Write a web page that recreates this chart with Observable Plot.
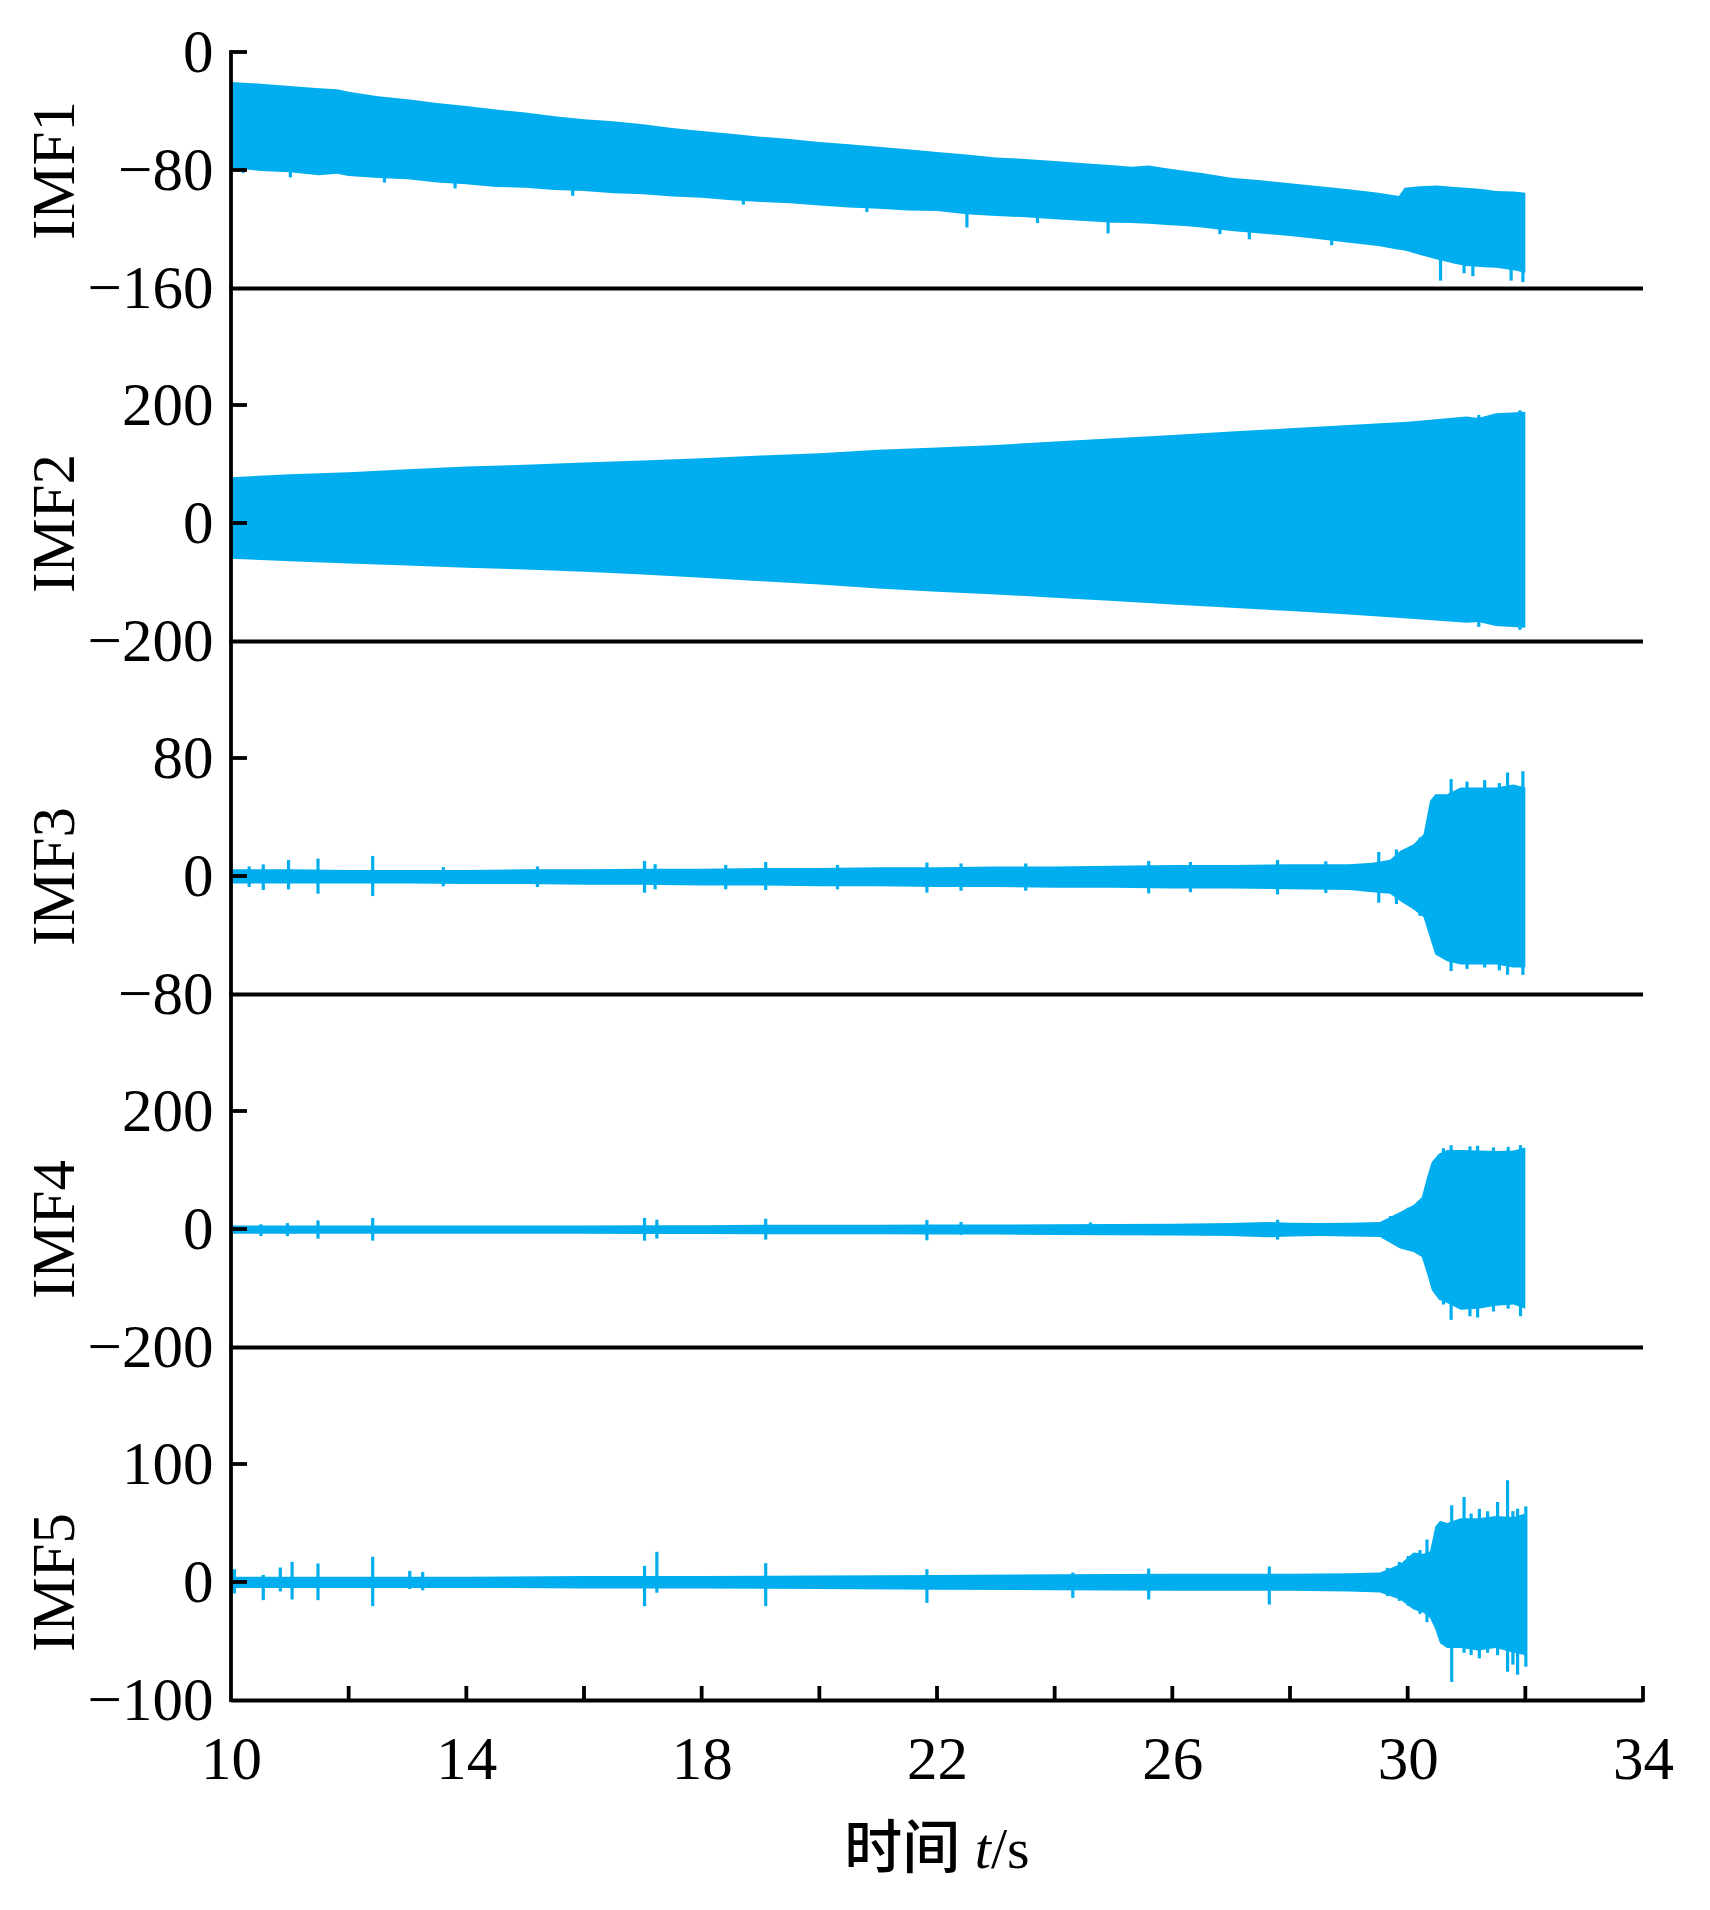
<!DOCTYPE html>
<html>
<head>
<meta charset="utf-8">
<script src="https://cdn.jsdelivr.net/npm/d3@7"></script>
<script src="https://cdn.jsdelivr.net/npm/@observablehq/plot@0.6"></script>
<style>
  html, body { margin: 0; padding: 0; background: white; }
  #wrap { position: relative; width: 1710px; height: 1910px; background: white; }
  #xtitle { position: absolute; left: 231px; width: 1412px; top: 1811px; text-align: center;
            font-size: 58px; line-height: 64px; font-family: "Liberation Serif", serif; color: black; }
  #xtitle .cjk { font-family: "Noto Sans CJK SC", sans-serif; font-weight: 500; }
</style>
</head>
<body>
<div id="wrap"></div>
<script>
// ---------- data ----------
const panelNames = ["IMF1", "IMF2", "IMF3", "IMF4", "IMF5"];
const yDomains = [[-160, 0], [-200, 200], [-80, 80], [-200, 200], [-100, 100]];
const yTickValues = [[0, -80, -160], [200, 0, -200], [80, 0, -80], [200, 0, -200], [100, 0, -100]];
const xTicksMinor = [10, 12, 14, 16, 18, 20, 22, 24, 26, 28, 30, 32, 34];
const xTickLabels = [10, 14, 18, 22, 26, 30, 34];

// IMF1 envelope
const imf1T  = [10, 10.5, 11, 11.5, 11.8, 12, 12.5, 13, 13.5, 14, 14.5, 15, 15.5, 16, 16.5, 17, 17.5, 18, 18.5, 19, 19.5, 20, 20.5, 21, 21.5, 22, 22.5, 23, 23.5, 24, 24.5, 25, 25.3, 25.6, 25.9, 26.2, 26.5, 27, 27.5, 28, 28.5, 29, 29.5, 29.85, 29.95, 30.2, 30.5, 30.8, 31, 31.3, 31.5, 31.8, 32];
const imf1Hi = [-20.3, -21.5, -23, -24.5, -25.3, -27, -30, -32.1, -34.5, -36.6, -39, -41.1, -43.5, -45.6, -47, -49, -51.5, -53.6, -55.5, -57.4, -59, -61, -62.5, -64.2, -66, -67.8, -69.5, -71.6, -72.5, -73.9, -75.5, -76.8, -77.8, -77, -78.8, -80.5, -82, -85.2, -87, -89, -91, -93.1, -95.5, -97.6, -92, -91, -90.5, -91.5, -92, -93, -94.2, -94.5, -95.4];
const imf1Lo = [-78.4, -80.7, -81.5, -83.5, -82.5, -84.1, -85.5, -86.3, -88.5, -89.7, -91.5, -92, -93.5, -94.2, -95.8, -96.5, -98, -98.8, -100.5, -101.7, -102.5, -104, -105.5, -106.2, -107.5, -107.8, -110, -111.2, -112, -113.4, -114.5, -115.7, -116, -116.5, -117.3, -118, -119, -121.4, -123, -124.7, -127, -129.3, -131.5, -134, -134.5, -137.5, -140.6, -143.5, -145.1, -146, -146.2, -148, -149.6];
const imf1SpikeT  = [10.2, 11.0, 12.6, 13.8, 15.8, 18.7, 20.8, 22.5, 23.7, 24.9, 26.8, 27.3, 28.7, 30.55, 30.95, 31.1, 31.75, 31.95];
const imf1SpikeHi = [-60, -60, -60, -70, -70, -80, -85, -100, -95, -105, -100, -110, -110, -95, -95, -95, -97, -97];
const imf1SpikeLo = [-82, -85, -88.5, -92.5, -97.5, -103.5, -108.5, -119, -116, -123, -123.5, -127, -131, -155, -150, -152, -155, -156];

// IMF2 envelope
const imf2T  = [10, 11, 12, 13, 14, 15, 16, 17, 18, 19, 20, 21, 22, 23, 24, 25, 26, 27, 28, 29, 30, 31, 31.2, 31.5, 32];
const imf2Hi = [77.7, 82.8, 86.2, 91.3, 95.8, 98.6, 102.5, 105.9, 109.9, 114.4, 118.3, 124, 127.9, 132.4, 138, 143.7, 149.3, 154.9, 160.6, 166.2, 171.8, 180.3, 178, 185.9, 188.7];
const imf2Lo = [-60.8, -64.8, -68.7, -72.1, -76, -78.9, -82.8, -87.3, -93, -98.6, -104.2, -111, -116.6, -121.1, -126.8, -132.4, -138, -143.7, -149.3, -154.9, -161.7, -169, -168, -174.7, -177.5];
const imf2SpikeT  = [31.2, 31.9];
const imf2SpikeHi = [183, 191];
const imf2SpikeLo = [-176, -181];

// IMF3 envelope
const imf3T  = [10, 11, 12, 13, 14, 15, 16, 17, 18, 19, 20, 21, 22, 23, 24, 25, 26, 27, 28, 29, 29.4, 29.7, 29.87, 30.1, 30.27, 30.38, 30.47, 30.67, 30.9, 31.2, 31.5, 31.8, 32];
const imf3Hi = [4.5, 4.5, 4, 4, 4, 4.5, 4.5, 5, 5, 5.5, 5.5, 6, 6, 6.5, 6.5, 7, 7.5, 7.5, 8, 8, 9, 11, 17, 21.5, 28.3, 51, 55.5, 55.5, 60, 60, 60, 62, 60];
const imf3Lo = [-5, -5, -5, -5, -5.5, -5.5, -6, -6, -6.5, -6.5, -7, -7, -7.5, -7.5, -8, -8, -8.5, -8.5, -9, -9.5, -11, -12, -16.9, -22.7, -28, -42, -53.3, -57.8, -60, -60, -60, -62, -62];
const imf3SpikeT  = [10.3, 10.54, 10.97, 11.47, 12.4, 13.6, 15.2, 17.02, 17.2, 18.4, 19.08, 20.3, 21.82, 22.4, 23.5, 25.59, 26.3, 27.78, 28.6, 29.5, 29.8, 30.2, 30.73, 31.0, 31.3, 31.55, 31.69, 31.95];
const imf3SpikeHi = [6.5, 7.9, 10.9, 11.8, 13.6, 6, 6.5, 10.2, 8, 7.5, 9.5, 7.5, 9.1, 8.5, 8.5, 10.2, 9.5, 10.9, 10, 16.3, 18, 26, 65.7, 64, 65, 63, 70.2, 71];
const imf3SpikeLo = [-7.5, -9.5, -9.1, -12, -13.6, -7, -7.5, -11.3, -9, -9, -9.5, -9, -11.3, -10, -10, -11.8, -11, -12.5, -11.5, -18.1, -19, -27, -64.4, -63, -62, -64, -67, -67];

// IMF4 envelope
const imf4T  = [10, 11, 12, 13, 14, 15, 16, 17, 18, 19, 20, 21, 22, 23, 24, 25, 26, 27, 27.6, 28, 28.5, 29, 29.53, 29.87, 30.1, 30.24, 30.33, 30.41, 30.53, 30.67, 30.9, 31.2, 31.5, 31.8, 32];
const imf4Hi = [6, 6, 6, 6, 6, 6, 6, 6.5, 6.5, 7, 7, 7, 7.5, 7.5, 8, 8.5, 9, 10, 12, 10.5, 10, 10.5, 12, 28.8, 40.7, 54, 88, 113.6, 127.7, 133.9, 133.9, 133, 132, 133, 138];
const imf4Lo = [-8, -8, -8, -8, -8, -8, -8, -8.5, -8.5, -9, -9, -9, -9.5, -9.5, -10, -10.5, -11, -12, -14, -12.5, -12, -12.5, -13.6, -33, -39, -47.5, -75.7, -103.6, -120, -125.5, -137, -135, -130, -128, -135];
const imf4SpikeT  = [10.5, 10.95, 11.47, 12.4, 17.02, 17.23, 19.08, 21.82, 22.4, 24.6, 27.78, 29.7, 30.0, 30.6, 30.73, 31.05, 31.18, 31.45, 31.7, 31.91];
const imf4SpikeHi = [8, 10, 14.6, 18.6, 18.6, 15.8, 17.5, 15.2, 12, 11, 15.8, 22, 36, 137, 142, 140, 141, 138, 139, 142];
const imf4SpikeLo = [-12, -12, -16.3, -19.7, -19.7, -16.3, -18, -19.2, -10, -10, -18, -22, -36, -128, -154, -148, -150, -140, -135, -148];

// IMF5 envelope
const imf5T  = [10, 12, 14, 16, 18, 20, 22, 24, 26, 28, 29, 29.53, 29.87, 30.1, 30.27, 30.38, 30.47, 30.55, 30.67, 30.9, 31.2, 31.5, 31.8, 32];
const imf5Hi = [4.5, 4.5, 4.5, 5, 5, 5.5, 6, 6.5, 7, 7, 7.5, 8, 15, 25, 24, 26, 47, 52, 50, 54, 54, 56, 55, 58];
const imf5Lo = [-5, -5, -5, -5.5, -5.5, -6, -6.5, -7, -7.5, -7.5, -8, -9, -14.8, -23.3, -26, -30.5, -40, -52, -56, -56, -58, -56, -60, -62];
const imf5SpikeT  = [10.05, 10.54, 10.83, 11.03, 11.47, 12.4, 13.03, 13.25, 17.02, 17.23, 19.08, 21.82, 24.3, 25.59, 27.64, 29.65, 29.85, 30.0, 30.2, 30.32, 30.74, 30.95, 31.07, 31.21, 31.35, 31.52, 31.69, 31.78, 31.86, 32.0];
const imf5SpikeHi = [10.8, 6, 12.3, 17.1, 15.7, 21.4, 9.4, 8.5, 13.7, 25.6, 16, 10.8, 8, 11.4, 13.1, 12, 17, 22, 27, 36, 65, 72, 58, 62, 60, 67.8, 86.3, 60, 62, 64];
const imf5SpikeLo = [-9.7, -15.4, -8, -14.8, -15.4, -20.5, -6, -7, -20.5, -9.1, -20.5, -17.7, -13.4, -14.8, -19.1, -12, -16, -20, -27, -34, -84.6, -60, -62, -64.7, -60, -62, -76, -70, -78.6, -71.8];

const envT  = [imf1T, imf2T, imf3T, imf4T, imf5T];
const envHi = [imf1Hi, imf2Hi, imf3Hi, imf4Hi, imf5Hi];
const envLo = [imf1Lo, imf2Lo, imf3Lo, imf4Lo, imf5Lo];
const spkT  = [imf1SpikeT, imf2SpikeT, imf3SpikeT, imf4SpikeT, imf5SpikeT];
const spkHi = [imf1SpikeHi, imf2SpikeHi, imf3SpikeHi, imf4SpikeHi, imf5SpikeHi];
const spkLo = [imf1SpikeLo, imf2SpikeLo, imf3SpikeLo, imf4SpikeLo, imf5SpikeLo];

// ---------- drawing ----------
const color = "#00AEEF";
const font = "'Liberation Serif', 'Times New Roman', serif";
const FS = 61;
const W = 1710, ML = 231, MR = 67, PH = 236, GAP = 117, FIRST_TOP = 52;
const wrap = document.getElementById("wrap");

function frameMark(innerTicks, isFirst, isLast) {
  return (index, scales, values, dims) => {
    const g = d3.create("svg:g").attr("stroke", "black").attr("stroke-width", 3.8).attr("fill", "none");
    const x0 = scales.x(10);
    g.append("line").attr("x1", x0).attr("x2", x0)
      .attr("y1", isFirst ? dims.marginTop - 1.9 : -2)
      .attr("y2", dims.height - dims.marginBottom + 1.9);
    for (const v of innerTicks) {
      const y = scales.y(v);
      g.append("line").attr("x1", x0).attr("x2", x0 + 16).attr("y1", y).attr("y2", y);
    }
    if (isLast) {
      const yb = dims.height - dims.marginBottom;
      for (const t of xTicksMinor) {
        if (t === 10) continue;
        const x = scales.x(t);
        g.append("line").attr("x1", x).attr("x2", x).attr("y1", yb + 1.9).attr("y2", yb - 14);
      }
    }
    return g.node();
  };
}

panelNames.forEach((name, i) => {
  const isFirst = i === 0, isLast = i === panelNames.length - 1;
  const mt = isFirst ? FIRST_TOP : GAP;
  const mb = isLast ? 100 : 0;
  const top = isFirst ? 0 : FIRST_TOP + i * (PH + GAP) - GAP;
  const env = envT[i].map((t, k) => ({t, hi: envHi[i][k], lo: envLo[i][k]}));
  const spikes = spkT[i].map((t, k) => ({t, hi: spkHi[i][k], lo: spkLo[i][k]}));
  const [yMin, yMax] = yDomains[i];
  const ticks = yTickValues[i];
  const marks = [
    Plot.areaY(env, {x: "t", y1: "lo", y2: "hi", fill: color, curve: "linear"}),
    Plot.ruleX(spikes, {x: "t", y1: "lo", y2: "hi", stroke: color, strokeWidth: 3.2}),
    Plot.ruleY([yMin], {stroke: "black", strokeWidth: 3.8}),
    Plot.axisY(ticks, {tickSize: 0, tickPadding: 18, fontSize: FS, fontFamily: font, label: null}),
    Plot.text([name], {frameAnchor: "left", dx: -177, rotate: -90, fontSize: FS, fontFamily: font, lineAnchor: "middle", textAnchor: "middle", fill: "black"}),
    frameMark(ticks.filter(v => v !== yMin), isFirst, isLast)
  ];
  if (isLast) {
    marks.push(Plot.axisX(xTickLabels, {tickSize: 0, tickPadding: 35, fontSize: FS, fontFamily: font, label: null}));
  }
  const svg = Plot.plot({
    width: W,
    height: mt + PH + mb,
    marginLeft: ML,
    marginRight: MR,
    marginTop: mt,
    marginBottom: mb,
    style: {background: "transparent", overflow: "visible", fontFamily: font, fontSize: FS + "px", color: "black"},
    x: {domain: [10, 34], axis: isLast ? undefined : null},
    y: {domain: [yMin, yMax]},
    marks
  });
  svg.style.position = "absolute";
  svg.style.top = top + "px";
  svg.style.left = "0px";
  wrap.appendChild(svg);
});

const title = document.createElement("div");
title.id = "xtitle";
title.innerHTML = '<span class="cjk">时间</span> <i>t</i>/s';
wrap.appendChild(title);
</script>
</body>
</html>
